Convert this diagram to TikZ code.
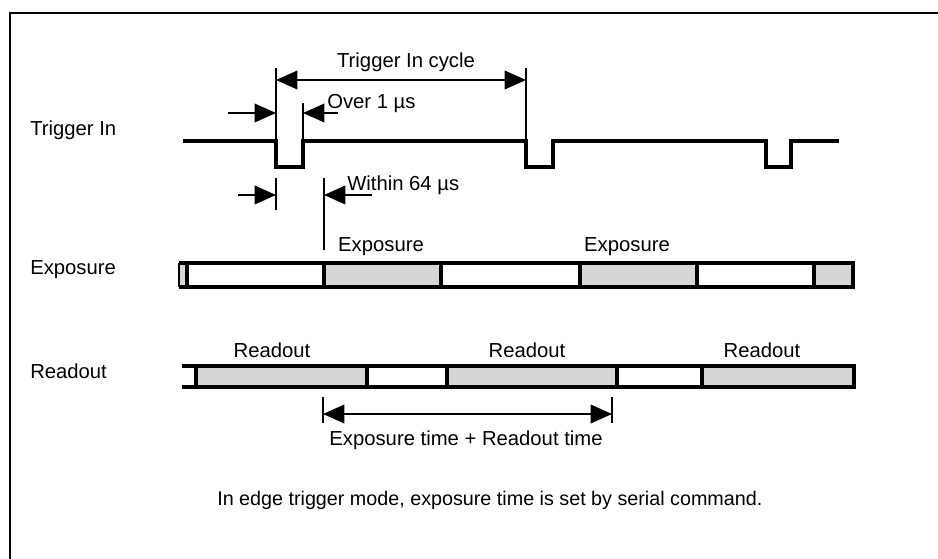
\documentclass[tikz,border=0pt]{standalone}
\usepackage{fontspec}
\setmainfont{Liberation Sans}
\usetikzlibrary{arrows.meta}
\definecolor{hatch}{RGB}{214,214,214}
\begin{document}
\begin{tikzpicture}[x=0.75pt,y=-0.75pt,
  sig/.style={line width=3pt},
  barline/.style={line width=3pt},
  dim/.style={line width=1.1pt},
  tickline/.style={line width=1.1pt},
  tipend/.style={-{Triangle[length=16pt,width=14pt]}},
  tipboth/.style={{Triangle[length=16pt,width=14pt]}-{Triangle[length=16pt,width=14pt]}},
  lbl/.style={font=\fontsize{15.2}{18}\selectfont, inner sep=0pt},
  shade/.style={fill=hatch}]
\useasboundingbox (0,0) rectangle (938,558);
% frame
\draw[line width=1.8pt] (10,560) -- (10,13) -- (940,13);

% left labels
\node[lbl,anchor=west] (lTrig) at (30,130) {Trigger In};
\node[lbl,anchor=west] (lExp) at (30,270) {Exposure};
\node[lbl,anchor=west] (lRead) at (30,371) {Readout};

% trigger signal
\draw[sig] (183,141) -- (276,141) -- (276,167) -- (303,167) -- (303,141)
  -- (526,141) -- (526,167) -- (553,167) -- (553,141)
  -- (766,141) -- (766,167) -- (791,167) -- (791,141) -- (839,141);

% ticks
\coordinate (t1a) at (276,68);  \coordinate (t1b) at (276,141);
\coordinate (t2a) at (526,68);  \coordinate (t2b) at (526,141);
\coordinate (t3a) at (303,103); \coordinate (t3b) at (303,141);
\coordinate (t4a) at (276,178); \coordinate (t4b) at (276,210);
\coordinate (t5a) at (324,178); \coordinate (t5b) at (324,250);
\draw[tickline] (t1a) -- (t1b);
\draw[tickline] (t2a) -- (t2b);
\draw[tickline] (t3a) -- (t3b);
\draw[tickline] (t4a) -- (t4b);
\draw[tickline] (t5a) -- (t5b);

% Trigger In cycle
\coordinate (cy1) at (276,80); \coordinate (cy2) at (526,80);
\draw[dim,tipboth] (cy1) -- (cy2);
\node[lbl] (lCycle) at (406,62) {Trigger In cycle};

% Over 1 us
\coordinate (o1) at (228,113); \coordinate (o2) at (276,113);
\coordinate (o3) at (338,113); \coordinate (o4) at (303,113);
\draw[dim,tipend] (o1) -- (o2);
\draw[dim,tipend] (o3) -- (o4);
\node[lbl,anchor=west] (lOver) at (327,104) {Over 1 µs};

% Within 64 us
\coordinate (w1) at (238,195); \coordinate (w2) at (276,195);
\coordinate (w3) at (372,195); \coordinate (w4) at (324,195);
\draw[dim,tipend] (w1) -- (w2);
\draw[dim,tipend] (w3) -- (w4);
\node[lbl,anchor=west] (lWithin) at (347,185) {Within 64 µs};

% Exposure bar
\fill[shade] (179,263) rectangle (187,287);
\fill[shade] (324,263) rectangle (441,287);
\fill[shade] (580,263) rectangle (697,287);
\fill[shade] (814,263) rectangle (853,287);
\draw[line width=0.9pt] (179,263) -- (179,287);
\draw[barline] (179,263) -- (853,263) -- (853,287) -- (179,287);
\foreach \xx in {187,324,441,580,697,814}
  \draw[barline] (\xx,263) -- (\xx,287);
\node[lbl] (lE1) at (381,247) {Exposure};
\node[lbl] (lE2) at (627,247) {Exposure};

% Readout bar
\fill[shade] (196,366) rectangle (367,387);
\fill[shade] (447,366) rectangle (617,387);
\fill[shade] (702,366) rectangle (854,387);
\draw[barline] (182,366) -- (854,366) -- (854,387) -- (182,387);
\foreach \xx in {196,367,447,617,702}
  \draw[barline] (\xx,366) -- (\xx,387);
\node[lbl] (lR1) at (272,350) {Readout};
\node[lbl] (lR2) at (527,350) {Readout};
\node[lbl] (lR3) at (762,350) {Readout};

% Exposure time + Readout time
\coordinate (e1a) at (323,397); \coordinate (e1b) at (323,423);
\coordinate (e2a) at (612,397); \coordinate (e2b) at (612,423);
\draw[tickline] (e1a) -- (e1b);
\draw[tickline] (e2a) -- (e2b);
\coordinate (ea) at (323,414); \coordinate (eb) at (612,414);
\draw[dim,tipboth] (ea) -- (eb);
\node[lbl] (lSum) at (466,440) {Exposure time + Readout time};

% note
\node[lbl,anchor=west,font=\fontsize{14.8}{18}\selectfont] (lNote) at (217,500) {In edge trigger mode, exposure time is set by serial command.};
\end{tikzpicture}
\end{document}
